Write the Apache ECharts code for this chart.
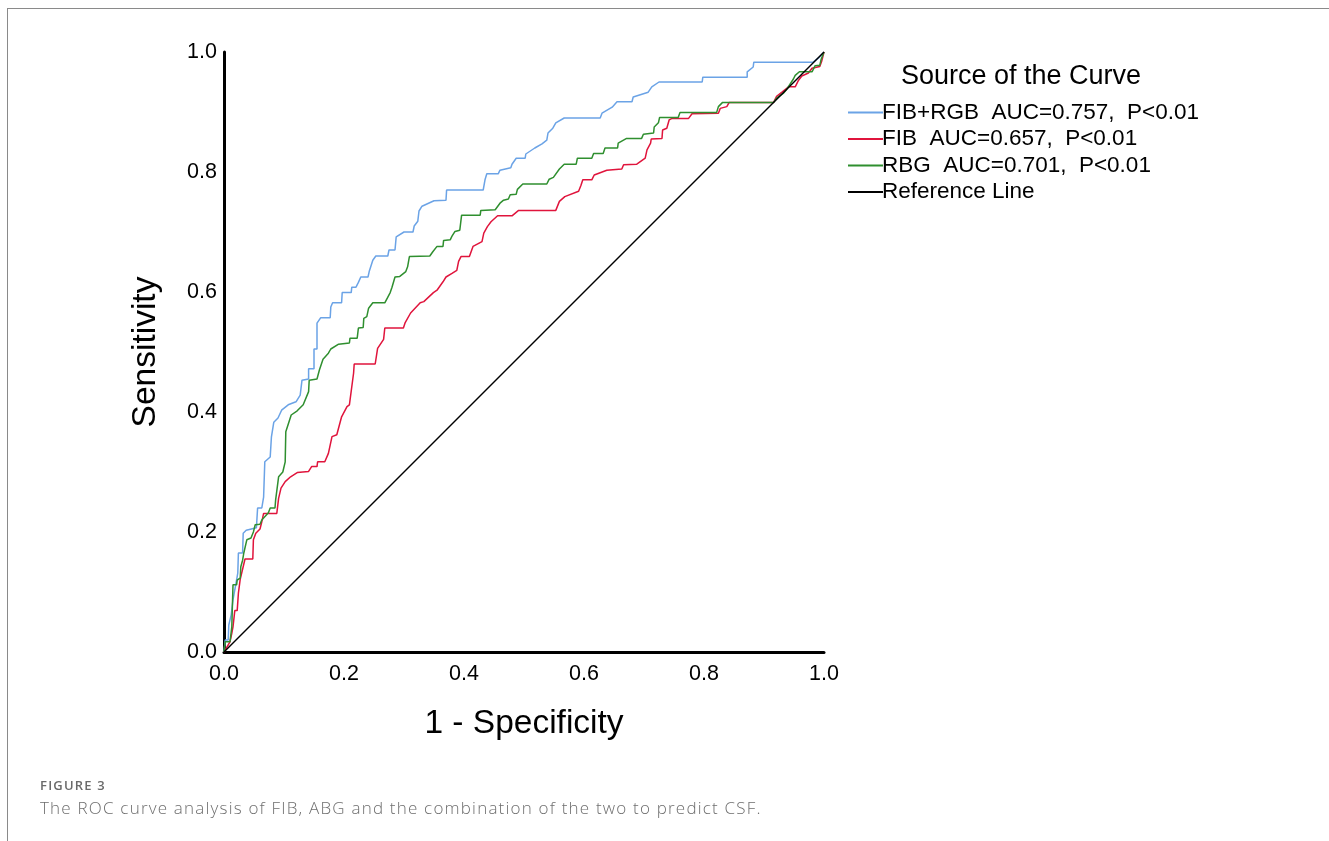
<!DOCTYPE html>
<html>
<head>
<meta charset="utf-8">
<script src="https://cdn.jsdelivr.net/npm/echarts@6/dist/echarts.min.js"></script>
<style>
html,body{margin:0;padding:0;background:#fff;}
#frame{position:absolute;left:7px;top:8px;width:1330px;height:840px;border-left:1px solid #8a8a8a;border-top:1px solid #8a8a8a;}
#chart{position:absolute;left:0;top:0;width:1329px;height:841px;}
#cap1{position:absolute;left:40px;top:776px;font-family:"Open Sans",sans-serif;font-size:13px;font-weight:600;color:#6a6a6a;letter-spacing:1.2px;}
#cap2{position:absolute;left:40px;top:796px;font-family:"Open Sans",sans-serif;font-size:17px;color:#6e6e6e;font-weight:300;letter-spacing:1.2px;}
</style>
</head>
<body>
<div id="frame"></div>
<div id="chart"></div>
<div id="cap1">FIGURE 3</div>
<div id="cap2">The ROC curve analysis of FIB, ABG and the combination of the two to predict CSF.</div>
<script>
// Series names
const seriesNames = ["FIB+RGB  AUC=0.757,  P<0.01", "FIB  AUC=0.657,  P<0.01", "RBG  AUC=0.701,  P<0.01", "Reference Line"];
const axisTicks = [0, 0.2, 0.4, 0.6, 0.8, 1.0];

// ROC points [1 - specificity, sensitivity]
const fibRgbRoc = [
[0,0],[0.002,0.020],[0.007,0.020],[0.008,0.045],[0.012,0.062],[0.015,0.087],[0.017,0.098],[0.021,0.120],[0.023,0.132],[0.024,0.165],[0.031,0.165],[0.032,0.198],[0.037,0.203],[0.054,0.207],[0.056,0.240],[0.063,0.240],[0.066,0.258],[0.068,0.317],[0.077,0.325],[0.079,0.358],[0.083,0.383],[0.090,0.390],[0.096,0.403],[0.107,0.412],[0.120,0.417],[0.127,0.428],[0.130,0.453],[0.141,0.455],[0.141,0.472],[0.150,0.472],[0.150,0.505],[0.155,0.505],[0.155,0.548],[0.161,0.557],[0.177,0.557],[0.178,0.575],[0.181,0.582],[0.196,0.582],[0.197,0.599],[0.212,0.599],[0.213,0.608],[0.220,0.608],[0.224,0.616],[0.228,0.625],[0.240,0.625],[0.242,0.634],[0.248,0.653],[0.253,0.660],[0.273,0.660],[0.275,0.670],[0.285,0.670],[0.287,0.692],[0.300,0.700],[0.315,0.700],[0.317,0.710],[0.323,0.718],[0.325,0.735],[0.330,0.743],[0.350,0.752],[0.370,0.753],[0.371,0.770],[0.432,0.770],[0.435,0.787],[0.438,0.797],[0.457,0.797],[0.460,0.803],[0.478,0.807],[0.480,0.813],[0.487,0.823],[0.502,0.823],[0.503,0.830],[0.518,0.840],[0.530,0.847],[0.538,0.853],[0.540,0.865],[0.548,0.873],[0.553,0.882],[0.567,0.890],[0.627,0.890],[0.630,0.898],[0.647,0.908],[0.655,0.917],[0.680,0.917],[0.682,0.925],[0.707,0.933],[0.713,0.942],[0.725,0.950],[0.797,0.950],[0.798,0.958],[0.872,0.958],[0.872,0.967],[0.882,0.975],[0.883,0.983],[0.982,0.983],[0.993,0.992],[1,1]
];
const fibRoc = [
[0,0],[0.010,0.017],[0.013,0.031],[0.015,0.042],[0.018,0.069],[0.022,0.069],[0.024,0.098],[0.027,0.121],[0.030,0.121],[0.035,0.155],[0.048,0.155],[0.049,0.187],[0.053,0.198],[0.060,0.205],[0.063,0.217],[0.066,0.231],[0.088,0.231],[0.091,0.256],[0.095,0.273],[0.102,0.284],[0.111,0.292],[0.122,0.299],[0.141,0.301],[0.146,0.309],[0.155,0.309],[0.156,0.317],[0.168,0.317],[0.174,0.331],[0.180,0.359],[0.188,0.362],[0.196,0.392],[0.205,0.409],[0.209,0.412],[0.216,0.465],[0.217,0.480],[0.252,0.480],[0.256,0.506],[0.266,0.521],[0.268,0.540],[0.299,0.540],[0.302,0.549],[0.311,0.565],[0.327,0.582],[0.333,0.584],[0.349,0.599],[0.355,0.603],[0.365,0.617],[0.370,0.625],[0.380,0.631],[0.388,0.636],[0.391,0.651],[0.395,0.659],[0.409,0.659],[0.415,0.676],[0.430,0.684],[0.433,0.698],[0.439,0.709],[0.445,0.717],[0.456,0.727],[0.480,0.727],[0.491,0.736],[0.553,0.736],[0.559,0.751],[0.568,0.759],[0.591,0.768],[0.595,0.778],[0.598,0.787],[0.613,0.787],[0.617,0.795],[0.638,0.803],[0.663,0.805],[0.666,0.812],[0.688,0.813],[0.702,0.823],[0.705,0.837],[0.711,0.848],[0.712,0.855],[0.730,0.856],[0.731,0.870],[0.738,0.873],[0.742,0.887],[0.746,0.889],[0.774,0.889],[0.780,0.897],[0.824,0.898],[0.827,0.906],[0.838,0.909],[0.842,0.916],[0.916,0.916],[0.921,0.926],[0.930,0.933],[0.941,0.942],[0.952,0.942],[0.957,0.952],[0.963,0.960],[0.974,0.965],[0.980,0.973],[0.993,0.976],[0.996,0.984],[1,1]
];
const rbgRoc = [
[0,0],[0.002,0.017],[0.010,0.017],[0.013,0.042],[0.015,0.112],[0.021,0.112],[0.022,0.120],[0.027,0.123],[0.028,0.142],[0.031,0.153],[0.033,0.165],[0.038,0.187],[0.045,0.190],[0.049,0.200],[0.052,0.212],[0.060,0.213],[0.063,0.220],[0.074,0.232],[0.077,0.240],[0.085,0.240],[0.086,0.253],[0.091,0.292],[0.098,0.300],[0.102,0.317],[0.103,0.367],[0.112,0.395],[0.122,0.402],[0.132,0.412],[0.141,0.434],[0.142,0.453],[0.155,0.455],[0.159,0.470],[0.165,0.488],[0.174,0.498],[0.178,0.505],[0.191,0.513],[0.209,0.515],[0.210,0.523],[0.222,0.523],[0.224,0.540],[0.232,0.541],[0.233,0.556],[0.238,0.559],[0.241,0.573],[0.248,0.582],[0.268,0.582],[0.277,0.599],[0.280,0.608],[0.285,0.625],[0.293,0.626],[0.303,0.634],[0.306,0.642],[0.309,0.659],[0.343,0.660],[0.348,0.667],[0.355,0.676],[0.365,0.676],[0.366,0.686],[0.377,0.687],[0.380,0.693],[0.385,0.701],[0.393,0.703],[0.396,0.728],[0.427,0.728],[0.428,0.736],[0.452,0.737],[0.460,0.748],[0.466,0.753],[0.474,0.755],[0.477,0.762],[0.487,0.763],[0.489,0.771],[0.498,0.780],[0.538,0.780],[0.542,0.788],[0.549,0.791],[0.559,0.805],[0.567,0.813],[0.587,0.813],[0.589,0.823],[0.613,0.823],[0.616,0.831],[0.632,0.831],[0.635,0.840],[0.656,0.840],[0.657,0.848],[0.671,0.856],[0.696,0.856],[0.699,0.863],[0.716,0.865],[0.717,0.875],[0.724,0.882],[0.726,0.891],[0.757,0.891],[0.760,0.899],[0.821,0.899],[0.824,0.909],[0.831,0.916],[0.916,0.916],[0.921,0.923],[0.932,0.931],[0.938,0.938],[0.949,0.955],[0.952,0.961],[0.959,0.967],[0.980,0.967],[0.985,0.977],[0.993,0.978],[0.995,0.987],[1,1]
];
const referenceLine = [[0,0],[1,1]];

const colors = ["#6ba3e6", "#e0143c", "#2f8f2f", "#000000"];
const font = '"Liberation Sans", Arial, sans-serif';

const chart = echarts.init(document.getElementById('chart'), null, {renderer: 'canvas'});
function lineSeries(name, data, color, width, z) {
  return {name: name, type: 'line', data: data, showSymbol: false, symbol: 'none',
    lineStyle: {color: color, width: width}, itemStyle: {color: color},
    animation: false, z: z, clip: false};
}
chart.setOption({
  backgroundColor: 'transparent',
  animation: false,
  title: {text: 'Source of the Curve', left: 896, top: 58,
    textStyle: {fontFamily: font, fontSize: 27, fontWeight: 'normal', color: '#000'}},
  legend: {
    orient: 'vertical', left: 843, top: 96,
    itemWidth: 35, itemHeight: 2, itemGap: 3.5,
    icon: 'rect',
    textStyle: {fontFamily: font, fontSize: 22.5, color: '#000', padding: [0,0,0,-6], lineHeight: 22.5},
    data: seriesNames
  },
  grid: {left: 224, top: 52, width: 600, height: 600, containLabel: false},
  xAxis: {
    type: 'value', min: 0, max: 1, interval: 0.2,
    name: '1 - Specificity', nameLocation: 'middle', nameGap: 55,
    nameTextStyle: {fontFamily: font, fontSize: 33.5, color: '#000'},
    axisLine: {show: true, onZero: false, lineStyle: {color: '#000', width: 3}},
    axisTick: {show: false}, splitLine: {show: false},
    axisLabel: {fontFamily: font, fontSize: 21.5, color: '#000', margin: 11,
      formatter: v => v.toFixed(1)}
  },
  yAxis: {
    type: 'value', min: 0, max: 1, interval: 0.2,
    name: 'Sensitivity', nameLocation: 'middle', nameGap: 61,
    nameTextStyle: {fontFamily: font, fontSize: 33.5, color: '#000'},
    axisLine: {show: true, onZero: false, lineStyle: {color: '#000', width: 3}},
    axisTick: {show: false}, splitLine: {show: false},
    axisLabel: {fontFamily: font, fontSize: 21.5, color: '#000', margin: 7, padding: [4,0,0,0],
      formatter: v => v.toFixed(1)}
  },
  series: [
    lineSeries(seriesNames[0], fibRgbRoc, colors[0], 1.5, 3),
    lineSeries(seriesNames[1], fibRoc, colors[1], 1.5, 4),
    lineSeries(seriesNames[2], rbgRoc, colors[2], 1.5, 5),
    lineSeries(seriesNames[3], referenceLine, colors[3], 1.5, 6)
  ]
});
</script>
</body>
</html>
